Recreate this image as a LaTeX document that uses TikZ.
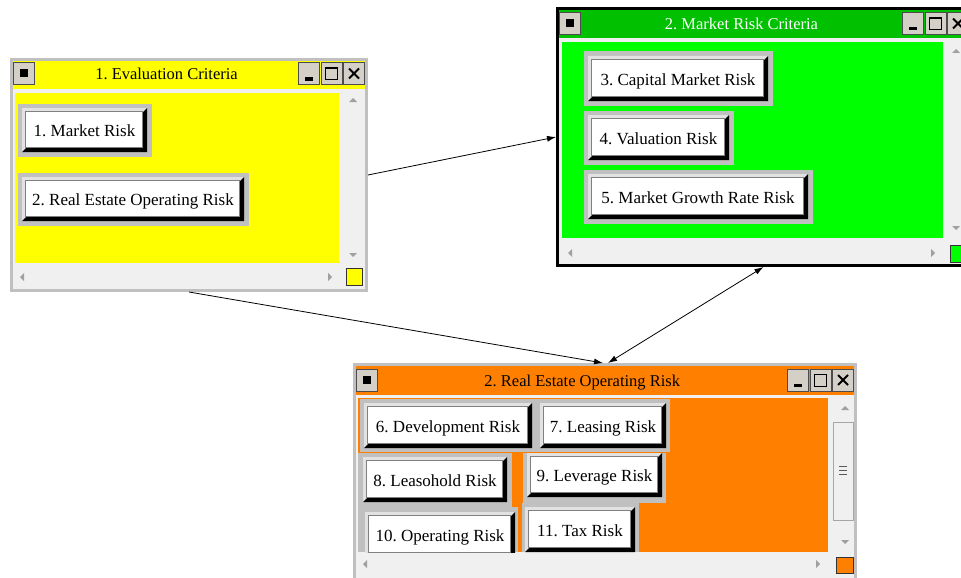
\documentclass[tikz,border=0pt]{standalone}
\usepackage{fontspec}
\setmainfont{Liberation Serif}
\usetikzlibrary{arrows.meta,calc}
\frenchspacing

\definecolor{framegray}{HTML}{C0C0C0}
\definecolor{winbg}{HTML}{F0F0F0}
\definecolor{capgray}{HTML}{D4D0C8}
\definecolor{bevelgray}{HTML}{E2E2E2}
\definecolor{arrowgray}{HTML}{A0A0A0}
\definecolor{evalyellow}{HTML}{FFFF00}
\definecolor{mkttitle}{HTML}{00C000}
\definecolor{mktgreen}{HTML}{00FF00}
\definecolor{reorange}{HTML}{FF8000}

\begin{document}
\begin{tikzpicture}[x=1pt,y=-1pt,
  win/.style={fill=winbg, line width=3pt, inner sep=0pt},
  capbtn/.style={fill=capgray, draw=gray!60!black, line width=0.8pt, minimum width=21, minimum height=22, inner sep=0pt},
  btn/.style={fill=white, inner sep=0pt, text height=13.5pt, text depth=0pt, font=\fontsize{17}{20}\selectfont,
    path picture={
      \fill[bevelgray] (path picture bounding box.south west) -- (path picture bounding box.north west) -- (path picture bounding box.north east) -- ++(-3pt,-3pt) -- ([shift={(3pt,-3pt)}]path picture bounding box.north west) -- ([shift={(3pt,3pt)}]path picture bounding box.south west) -- cycle;
      \fill[black] (path picture bounding box.south west) -- (path picture bounding box.south east) -- (path picture bounding box.north east) -- ++(-4pt,-4pt) -- ([shift={(-4pt,4pt)}]path picture bounding box.south east) -- ([shift={(4pt,4pt)}]path picture bounding box.south west) -- cycle;
      \draw[gray, line width=0.8pt] ([shift={(3.4pt,-3.4pt)}]path picture bounding box.north west) rectangle ([shift={(-4.4pt,4.4pt)}]path picture bounding box.south east);
    }},
  framed/.style={preaction={draw=framegray, line width=9pt}},
  link/.style={line width=0.8pt, -{Latex[length=9pt,width=6pt]}},
  both/.style={line width=0.8pt, {Latex[length=9pt,width=6pt]}-{Latex[length=9pt,width=6pt]}}]

\clip (0,0) rectangle (961,578);
\fill[white] (0,0) rectangle (961,578);

% 1. Evaluation Criteria
\node[win, draw=framegray, minimum width=355, minimum height=231] (evalwin) at (189,175) {};
\fill[evalyellow] (13,61) rectangle (365,89);
\fill[evalyellow] (15,93) rectangle (339,263);
\fill[arrowgray] (349,102) -- (357,102) -- (353,98) -- cycle;
\fill[arrowgray] (349,253) -- (357,253) -- (353,257) -- cycle;
\fill[arrowgray] (24,273) -- (24,281) -- (20,277) -- cycle;
\fill[arrowgray] (328,273) -- (328,281) -- (332,277) -- cycle;
\filldraw[fill=evalyellow, draw=gray!40!black] (346,268) rectangle (362,285);
\node[btn, framed, minimum width=125, minimum height=44] (mktrisk) at (84.5,130) {1. Market Risk};
\node[btn, framed, minimum width=222, minimum height=44] (reoprisk) at (133,199) {2. Real Estate Operating Risk};

% 2. Market Risk Criteria
\node[win, draw=black, minimum width=412, minimum height=257] (mktwin) at (763.5,137) {};
\fill[mkttitle] (559,10) rectangle (968,38);
\fill[mktgreen] (562,42) rectangle (943,238);
\fill[arrowgray] (952,53) -- (960,53) -- (956,49) -- cycle;
\fill[arrowgray] (952,226) -- (960,226) -- (956,230) -- cycle;
\fill[arrowgray] (572,249) -- (572,257) -- (568,253) -- cycle;
\fill[arrowgray] (931,249) -- (931,257) -- (935,253) -- cycle;
\filldraw[fill=mktgreen, draw=gray!40!black] (950,245) rectangle (967,262);
\node[btn, framed, minimum width=180, minimum height=45] (caprisk) at (678,78.5) {3. Capital Market Risk};
\node[btn, framed, minimum width=141, minimum height=45] (valrisk) at (658.5,137.5) {4. Valuation Risk};
\node[btn, framed, minimum width=220, minimum height=45] (growrisk) at (698,196.5) {5. Market Growth Rate Risk};

% 2. Real Estate Operating Risk
\node[win, draw=framegray, minimum width=501, minimum height=217] (rewin) at (605,473) {};
\fill[reorange] (356,366) rectangle (854,395);
\fill[reorange] (358,398) rectangle (828,552);
\fill[framegray] (360,399) rectangle (670,452);
\fill[framegray] (358,453) rectangle (512,507);
\fill[framegray] (523,453) rectangle (666,503);
\fill[framegray] (358,507) rectangle (518,552);
\fill[framegray] (522,503) rectangle (639,552);
\node[btn, minimum width=168, minimum height=45] (devrisk) at (448,425.5) {6. Development Risk};
\node[btn, minimum width=126, minimum height=45] (leasrisk) at (603,425.5) {7. Leasing Risk};
\node[btn, minimum width=144, minimum height=45] (holdrisk) at (435,479.5) {8. Leasohold Risk};
\node[btn, minimum width=135, minimum height=44] (levrisk) at (594.5,475) {9. Leverage Risk};
\node[btn, minimum width=150, minimum height=45] (oprisk) at (440,534.5) {10. Operating Risk};
\node[btn, minimum width=110, minimum height=45] (taxrisk) at (580,529.5) {11. Tax Risk};
\fill[winbg] (358,553) rectangle (830,577);
\filldraw[fill=gray!12, draw=gray!70] (833,422) rectangle (853,520);
\draw[gray!70!black, line width=0.8pt] (839,466) -- (847,466) (839,470) -- (847,470) (839,474) -- (847,474);
\fill[arrowgray] (841,410) -- (849,410) -- (845,406) -- cycle;
\fill[arrowgray] (841,540) -- (849,540) -- (845,544) -- cycle;
\fill[arrowgray] (367,560) -- (367,568) -- (363,564) -- cycle;
\fill[arrowgray] (816,560) -- (816,568) -- (820,564) -- cycle;
\filldraw[fill=reorange, draw=gray!40!black] (836,557) rectangle (853,573);

% title bars
\foreach \i/\ix/\cx/\cy/\tcol/\ttl in {1/24/298/73.5/black/{1. Evaluation Criteria}, 2/570/902/23.5/white/{2. Market Risk Criteria}, 3/366.5/787/380/black/{2. Real Estate Operating Risk}}{
  \node[capbtn] (icon\i) at (\ix,\cy) {\rule{8pt}{8pt}};
  \node[capbtn] (min\i) at (\cx+11,\cy) {};
  \node[capbtn] (max\i) at (\cx+33.5,\cy) {};
  \node[capbtn] (close\i) at (\cx+56,\cy) {};
  \node[text=\tcol, font=\fontsize{16.5}{20}\selectfont, text height=12.5pt, text depth=0pt] (title\i) at ($(icon\i.east)!0.5!(min\i.west)$) {\ttl};
  \fill ([shift={(-4pt,-7pt)}]min\i.center) rectangle ++(8pt,3pt);
  \draw[line width=1pt] ([shift={(-6pt,-6pt)}]max\i.center) rectangle ([shift={(6pt,6pt)}]max\i.center);
  \draw[line width=1.8pt] ([shift={(-6pt,5.5pt)}]max\i.center) -- ([shift={(6pt,5.5pt)}]max\i.center);
  \draw[line width=1.8pt] ([shift={(-5pt,-5pt)}]close\i.center) -- ([shift={(5pt,5pt)}]close\i.center) ([shift={(-5pt,5pt)}]close\i.center) -- ([shift={(5pt,-5pt)}]close\i.center);
}

\draw[link] (evalwin.east) -- (mktwin.west);
\draw[link] (evalwin.south) -- ([xshift=-2pt]rewin.north);
\draw[both] ([xshift=3pt]rewin.north) -- (mktwin.south);
\end{tikzpicture}
\end{document}
